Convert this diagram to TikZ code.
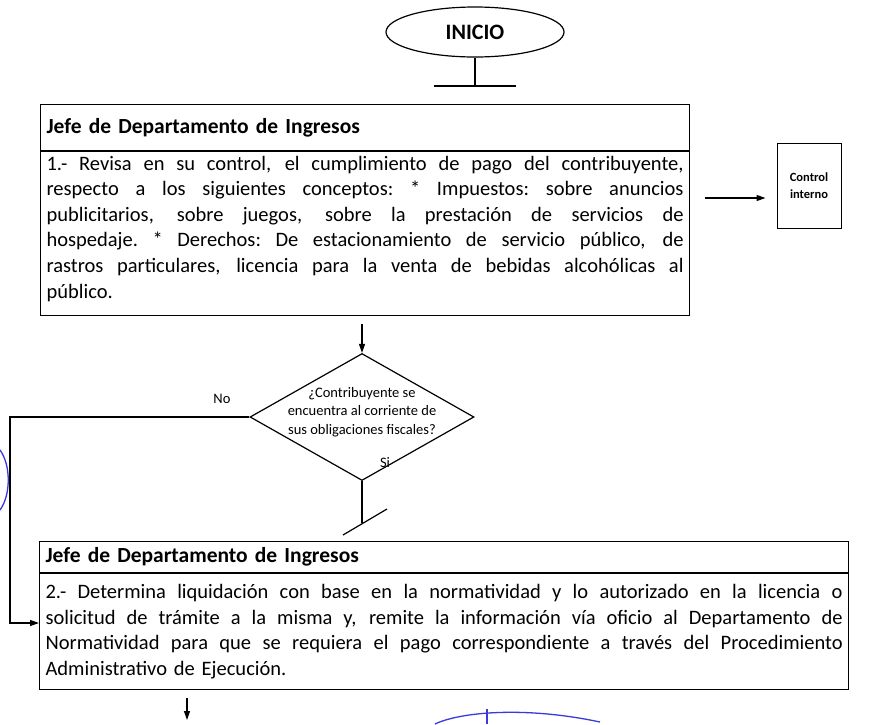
\documentclass[tikz,border=0pt]{standalone}
\usepackage{fontspec}
\setmainfont{Carlito}
\usetikzlibrary{arrows.meta,calc,positioning,shapes.geometric}
\definecolor{tinta}{HTML}{3A3ADB}

\tikzset{
  terminal/.style={ellipse,draw,line width=1.2pt,minimum width=178pt,minimum height=50pt,
    font=\fontsize{22}{24}\selectfont\bfseries},
  encabezado/.style={draw,line width=1.2pt,anchor=north west,inner xsep=6pt,align=left,
    font=\fontsize{21.5}{24}\selectfont\bfseries},
  cuerpo/.style={draw,line width=1.2pt,anchor=north west,inner xsep=6pt,align=left,
    font=\fontsize{20.5}{25.6}\selectfont},
  decision/.style={diamond,draw,line width=1.2pt,minimum width=224pt,minimum height=127pt,inner sep=0pt},
  documento/.style={draw,line width=1pt,minimum width=64pt,minimum height=85pt,align=center,
    font=\fontsize{12.5}{17}\selectfont\bfseries},
  etiqueta/.style={font=\fontsize{14.5}{18.5}\selectfont},
  flecha/.style={line width=1.2pt,-{Triangle[length=9pt,width=6pt]}},
  linea/.style={line width=1.2pt}
}

% renglon justificado a mano
\newcommand{\renglon}[2]{\leavevmode\hbox to #1{\spaceskip=.23em plus 1fil minus .1em\xspaceskip=\spaceskip\relax#2}}
\newcommand{\renA}[1]{\renglon{637pt}{#1}}
\newcommand{\renB}[1]{\renglon{797pt}{#1}}

\begin{document}
\begin{tikzpicture}[x=1pt,y=-1pt]
  \useasboundingbox (0,0) rectangle (884,724);

  % Inicio
  \node[terminal] (inicio) at (475,32) {INICIO};
  \coordinate (pieInicio) at (475,86);
  \draw[linea] (inicio.south) -- (pieInicio);
  \draw[linea] ($(pieInicio)+(-41,0)$) -- ($(pieInicio)+(41,0)$);

  % Paso 1
  \node[encabezado,text width=637pt,minimum height=46pt] (jefeA) at (40,104)
    {Jefe de Departamento de Ingresos};
  \node[cuerpo,text width=637pt,minimum height=164pt] (pasoA) at (jefeA.south west)
    {\renA{1.- Revisa en su control, el cumplimiento de pago del contribuyente,}\\
     \renA{respecto a los siguientes conceptos: * Impuestos: sobre anuncios}\\
     \renA{publicitarios, sobre juegos, sobre la prestación de servicios de}\\
     \renA{hospedaje. * Derechos: De estacionamiento de servicio público, de}\\
     \renA{rastros particulares, licencia para la venta de bebidas alcohólicas al}\\
     público.\\[-12pt]\mbox{}};

  % Control interno
  \node[documento] (control) at (809,185.5) {Control\\interno};
  \coordinate (haciaControl) at (705,198);
  \draw[flecha,shorten >=11pt] (haciaControl) -- (haciaControl -| control.west);

  % Decision
  \node[decision,label={[etiqueta,align=center,yshift=5pt]center:{¿Contribuyente se\\encuentra al corriente de\\sus obligaciones fiscales?}}]
    (pregunta) at (362,417) {};
  \draw[flecha] (pasoA.south -| pregunta) ++(0,8) -- (pregunta.north);
  \node[etiqueta] (no) at (222,399) {No};
  \node[etiqueta] (si) at (385,463) {Si};

  % Si: corte
  \coordinate (corte) at (362,523);
  \draw[linea] (pregunta.south) -- (corte);
  \draw[linea] (343,535) -- (387,509);

  % Paso 2
  \node[encabezado,text width=797pt,minimum height=31pt] (jefeB) at (39,541)
    {Jefe de Departamento de Ingresos};
  \node[cuerpo,text width=797pt,minimum height=116pt] (pasoB) at (jefeB.south west)
    {\renB{2.- Determina liquidación con base en la normatividad y lo autorizado en la licencia o}\\
     \renB{solicitud de trámite a la misma y, remite la información vía oficio al Departamento de}\\
     \renB{Normatividad para que se requiera el pago correspondiente a través del Procedimiento}\\
     Administrativo de Ejecución.};

  % No: retorno
  \coordinate (vuelta) at (10,417);
  \coordinate (entrada) at (pasoB.north west |- 0,623);
  \draw[flecha] (pregunta.west) -- (vuelta) |- (entrada);

  % Salida
  \coordinate (finB) at (187,720);
  \draw[flecha] (pasoB.south -| finB) ++(0,8) -- (finB);

  % marcas a mano
  \draw[tinta,line width=1.3pt] (0,450) .. controls (11,465) and (11,495) .. (0,510);
  \draw[tinta,line width=1.3pt] (435,724) .. controls (460,712) and (525,706) .. (600,722);
  \draw[tinta,line width=1.3pt] (487,709) -- (487,724);
\end{tikzpicture}
\end{document}
